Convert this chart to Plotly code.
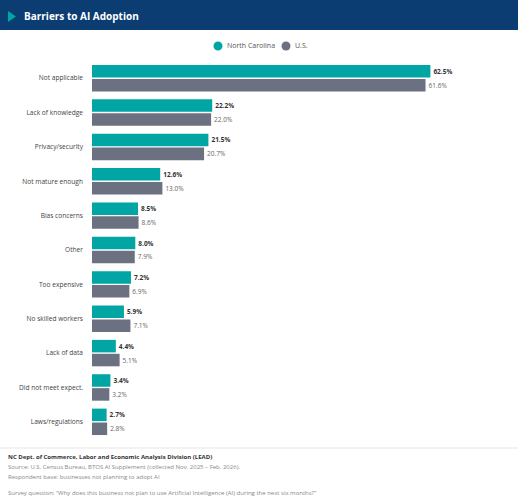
import plotly.graph_objects as go

categories = ["Not applicable", "Lack of knowledge", "Privacy/security", "Not mature enough",
              "Bias concerns", "Other", "Too expensive", "No skilled workers",
              "Lack of data", "Did not meet expect.", "Laws/regulations"]
nc_values = [62.5, 22.2, 21.5, 12.6, 8.5, 8.0, 7.2, 5.9, 4.4, 3.4, 2.7]
us_values = [61.6, 22.0, 20.7, 13.0, 8.6, 7.9, 6.9, 7.1, 5.1, 3.2, 2.8]
series_names = ["North Carolina", "U.S."]

TEAL = "#00A5A4"
GRAY = "#6B7180"
NAVY = "#0B3C72"
FONT = "Open Sans"

W, H = 518, 500
L, R, T, B = 92, 47, 61, 61
pw = W - L - R
ph = H - T - B


def px(x):
    return (x - L) / pw


def py(y):
    return (H - B - y) / ph


fig = go.Figure()
fig.add_trace(go.Bar(
    y=categories, x=nc_values, orientation="h", name=series_names[0],
    marker=dict(color=TEAL, line=dict(width=0)),
    text=[f"<b>{v:.1f}%</b>" for v in nc_values], textposition="outside",
    textfont=dict(size=6.5, color="#333333", family=FONT), cliponaxis=False,
    constraintext="none", showlegend=False,
))
fig.add_trace(go.Bar(
    y=categories, x=us_values, orientation="h", name=series_names[1],
    marker=dict(color=GRAY, line=dict(width=0)),
    text=[f"{v:.1f}%" for v in us_values], textposition="outside",
    textfont=dict(size=6.5, color="#666666", family=FONT), cliponaxis=False,
    constraintext="none", showlegend=False,
))

shapes = [
    dict(type="rect", xref="paper", yref="paper", x0=px(0), x1=px(W), y0=py(30), y1=py(0),
         fillcolor=NAVY, line=dict(width=0), layer="below"),
    dict(type="path", xref="paper", yref="paper",
         path=f"M {px(8)} {py(11)} L {px(16)} {py(16.5)} L {px(8)} {py(22)} Z",
         fillcolor=TEAL, line=dict(width=0)),
    dict(type="line", xref="paper", yref="paper", x0=px(0), x1=px(W), y0=py(448), y1=py(448),
         line=dict(color="#E6E6E6", width=1)),
]

annotations = [
    dict(text="<b>Barriers to AI Adoption</b>", xref="paper", yref="paper", x=px(22), y=py(16),
         xanchor="left", yanchor="middle", showarrow=False,
         font=dict(size=10, color="white", family=FONT)),
    dict(text="<b>NC Dept. of Commerce, Labor and Economic Analysis Division (LEAD)</b>",
         xref="paper", yref="paper", x=px(6), y=py(457), xanchor="left", yanchor="middle",
         showarrow=False, font=dict(size=6, color="#333333", family=FONT)),
    dict(text="Source: U.S. Census Bureau, BTOS AI Supplement (collected Nov. 2025 \u2013 Feb. 2026).",
         xref="paper", yref="paper", x=px(6), y=py(467), xanchor="left", yanchor="middle",
         showarrow=False, font=dict(size=6, color="#888888", family=FONT)),
    dict(text="Respondent base: businesses not planning to adopt AI",
         xref="paper", yref="paper", x=px(6), y=py(477), xanchor="left", yanchor="middle",
         showarrow=False, font=dict(size=6, color="#888888", family=FONT)),
    dict(text="Survey question: \u201cWhy does this business not plan to use Artificial Intelligence (AI) during the next six months?\u201d",
         xref="paper", yref="paper", x=px(6), y=py(493), xanchor="left", yanchor="middle",
         showarrow=False, font=dict(size=6, color="#888888", family=FONT)),
]

# legend (drawn manually to match the compact marker/text spacing)
legend_x = [218, 286]
for name, col, lx in zip(series_names, [TEAL, GRAY], legend_x):
    shapes.append(dict(type="circle", xref="paper", yref="paper",
                       x0=px(lx - 4.5), x1=px(lx + 4.5), y0=py(50.5), y1=py(41.5),
                       fillcolor=col, line=dict(width=0)))
    annotations.append(dict(text=name, xref="paper", yref="paper", x=px(lx + 7), y=py(46),
                            xanchor="left", yanchor="middle", showarrow=False,
                            font=dict(size=7, color="#555555", family=FONT)))

fig.update_layout(
    width=W, height=H,
    margin=dict(l=L, r=R, t=T, b=B, autoexpand=False),
    paper_bgcolor="white", plot_bgcolor="white",
    barmode="group", bargap=0.19, bargroupgap=0.1,
    font=dict(family=FONT, size=7, color="#444444"),
    showlegend=False,
    xaxis=dict(range=[0, 70], visible=False, showgrid=False, zeroline=False, fixedrange=True,
               automargin=False),
    yaxis=dict(autorange="reversed", showgrid=False, zeroline=False, showline=False,
               ticks="", ticklabelstandoff=8, automargin=False,
               tickfont=dict(size=6.6, color="#444444", family=FONT)),
    shapes=shapes, annotations=annotations,
)

fig.write_html("out.html")
